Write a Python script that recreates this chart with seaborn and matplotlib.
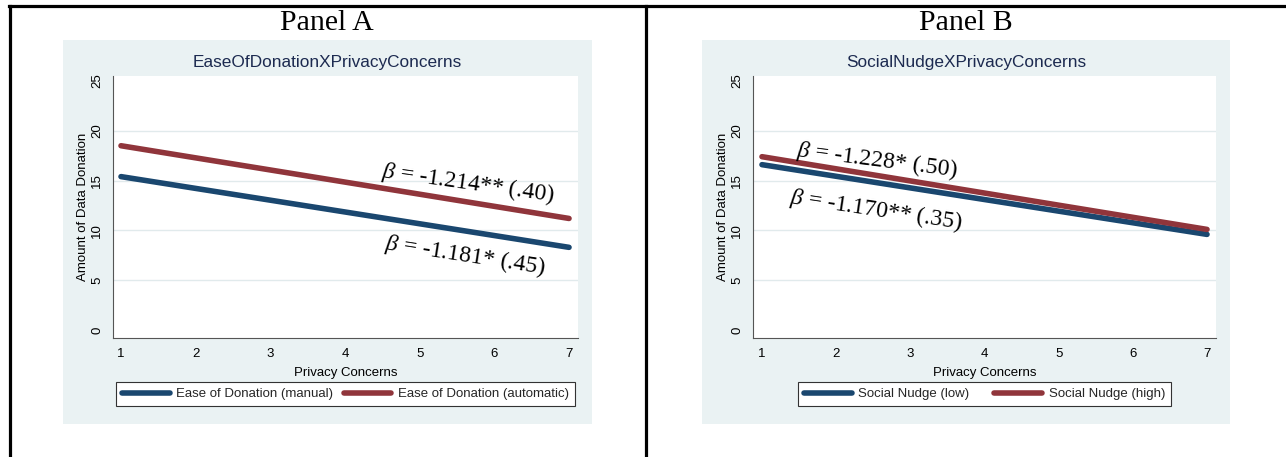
import matplotlib
matplotlib.use("Agg")
import numpy as np
import pandas as pd
import seaborn as sns
import matplotlib.pyplot as plt
from matplotlib.patches import Rectangle
from matplotlib.lines import Line2D

# ---- data -------------------------------------------------------------
privacy = [1, 7]                      # endpoints of the Privacy Concerns scale
ease_manual = [15.4, 8.3]             # predicted donation, manual donation
ease_auto = [18.5, 11.2]              # predicted donation, automatic donation
nudge_low = [16.6, 9.6]               # predicted donation, low social nudge
nudge_high = [17.4, 10.1]             # predicted donation, high social nudge

panel_headers = ["Panel A", "Panel B"]
panel_titles = ["EaseOfDonationXPrivacyConcerns", "SocialNudgeXPrivacyConcerns"]
legend_a = ["Ease of Donation (manual)", "Ease of Donation (automatic)"]
legend_b = ["Social Nudge (low)", "Social Nudge (high)"]
beta_a = [r"$\beta$ = -1.214** (.40)", r"$\beta$ = -1.181* (.45)"]
beta_b = [r"$\beta$ = -1.228* (.50)", r"$\beta$ = -1.170** (.35)"]
x_ticks = [1, 2, 3, 4, 5, 6, 7]
y_ticks = [0, 5, 10, 15, 20, 25]

# ---- style --------------------------------------------------------------
sns.set_theme(style="white")
plt.rcParams["font.family"] = ["Liberation Sans", "DejaVu Sans"]
plt.rcParams["mathtext.fontset"] = "custom"
plt.rcParams["mathtext.rm"] = "Liberation Serif"
plt.rcParams["mathtext.it"] = "Liberation Serif:italic"

NAVY = "#1a476f"
MAROON = "#90353b"
BG = "#eaf2f3"
GRID = "#e1eaec"
AXC = "#555555"
TITLE_C = "#1c2a50"
SMALL = 9.5

W, H = 1286, 457
fig = plt.figure(figsize=(W / 100, H / 100), dpi=100)


def fx(px):
    return px / W


def fy(py):
    return 1 - py / H


# outer table frame
for seg in [((fx(9), fx(1286)), (fy(6), fy(6))),
            ((fx(9.5), fx(9.5)), (fy(6), fy(457))),
            ((fx(646), fx(646)), (fy(6), fy(457)))]:
    fig.add_artist(Line2D(seg[0], seg[1], transform=fig.transFigure,
                          color="black", lw=2.3, solid_capstyle="projecting"))

panels = [
    dict(bg=(63, 592), ax=(113, 578), xlim=(0.893, 7.12), center=327,
         series=[ease_manual, ease_auto], labels=legend_a, colspace=0.8,
         betas=[(beta_a[0], 5.65, 14.75, -8.0), (beta_a[1], 5.61, 7.45, -8.8)]),
    dict(bg=(702, 1230), ax=(753, 1216), xlim=(0.879, 7.121), center=966,
         series=[nudge_low, nudge_high], labels=legend_b, colspace=1.9,
         betas=[(beta_b[0], 2.55, 17.05, -7.2), (beta_b[1], 2.54, 12.05, -8.5)]),
]

for i, p in enumerate(panels):
    gx0, gx1 = p["bg"]
    fig.add_artist(Rectangle((fx(gx0), fy(424)), (gx1 - gx0) / W, (424 - 40) / H,
                             transform=fig.transFigure, facecolor=BG,
                             edgecolor="none", zorder=0))
    fig.text(fx(p["center"]), fy(23), panel_headers[i], ha="center", va="center",
             family="Liberation Serif", fontsize=21.5, color="black")
    fig.text(fx(p["center"]), fy(63), panel_titles[i], ha="center", va="center",
             fontsize=12.4, color=TITLE_C)

    ax0, ax1 = p["ax"]
    ax = fig.add_axes([fx(ax0), fy(338), (ax1 - ax0) / W, (338 - 76) / H])
    ax.set_facecolor("white")

    for yv in y_ticks[1:-1]:
        ax.axhline(yv, color=GRID, lw=1.0, zorder=0)

    df = pd.DataFrame({
        "Privacy Concerns": privacy * 2,
        "Amount of Data Donation": p["series"][0] + p["series"][1],
        "group": [p["labels"][0]] * 2 + [p["labels"][1]] * 2,
    })
    sns.lineplot(data=df, x="Privacy Concerns", y="Amount of Data Donation",
                 hue="group", hue_order=p["labels"], palette=[NAVY, MAROON],
                 linewidth=4.0, legend=False, ax=ax, solid_capstyle="round",
                 zorder=3)

    ax.set_xlim(*p["xlim"])
    ax.set_ylim(-0.8, 25.5)
    ax.set_xticks(x_ticks)
    ax.set_yticks(y_ticks)
    ax.tick_params(axis="both", direction="out", length=4, width=0.8,
                   color=AXC, labelsize=SMALL, labelcolor="black", pad=3)
    ax.tick_params(axis="y", labelrotation=90)
    for lab in ax.get_yticklabels():
        lab.set_va("center")
    for side in ["top", "right"]:
        ax.spines[side].set_visible(False)
    for side in ["left", "bottom"]:
        ax.spines[side].set_color(AXC)
        ax.spines[side].set_linewidth(0.8)

    ax.set_xlabel("Privacy Concerns", fontsize=SMALL, color="black")
    ax.set_ylabel("Amount of Data Donation", fontsize=SMALL, color="black")
    ax.xaxis.set_label_coords(0.5, -0.112)
    ax.yaxis.set_label_coords(-24 / (ax1 - ax0), 0.5)

    for text, tx, ty, rot in p["betas"]:
        ax.text(tx, ty, text, rotation=rot, rotation_mode="anchor",
                ha="center", va="center", fontsize=17,
                family="Liberation Serif", color="black", zorder=4)

    handles = [Line2D([], [], color=c, lw=4.0, solid_capstyle="round")
               for c in (NAVY, MAROON)]
    leg = ax.legend(handles, p["labels"], loc="center",
                    bbox_to_anchor=(0.5, -0.215), ncol=2, frameon=True,
                    fancybox=False, fontsize=SMALL, handlelength=3.6,
                    handletextpad=0.5, columnspacing=p["colspace"],
                    borderpad=0.45, borderaxespad=0)
    leg.get_frame().set_edgecolor("#333333")
    leg.get_frame().set_linewidth(0.8)
    leg.get_frame().set_facecolor("white")
    leg.get_frame().set_alpha(1)

fig.savefig("out.png", dpi=100)
